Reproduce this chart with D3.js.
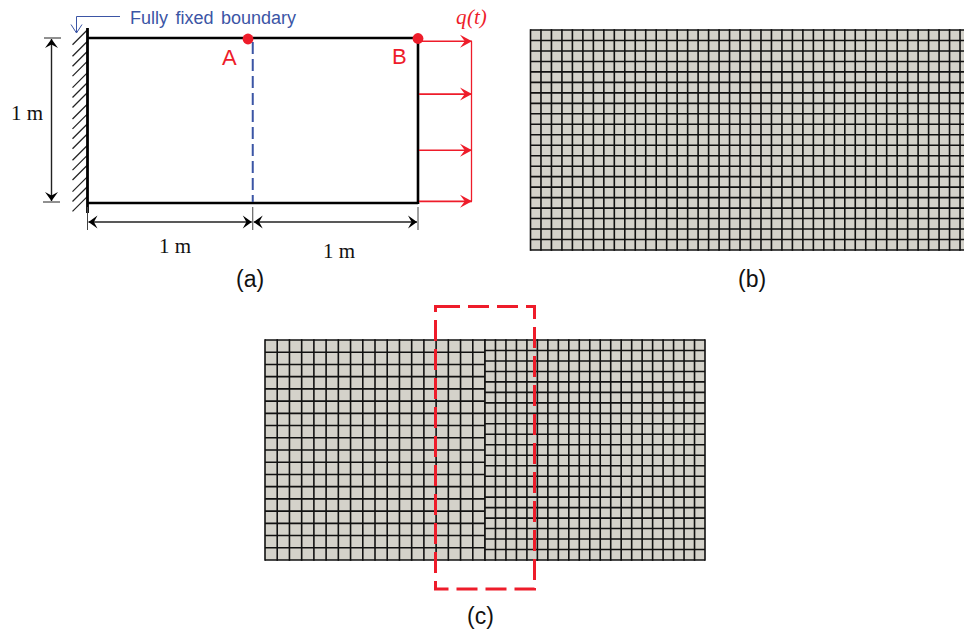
<!DOCTYPE html>
<html>
<head>
<meta charset="utf-8">
<script src="https://cdnjs.cloudflare.com/ajax/libs/d3/7.8.5/d3.min.js"></script>
<style>
    html, body { margin: 0; padding: 0; background: #fff; overflow: hidden; }
    svg { display: block; }
    .sans { font-family: "Liberation Sans", Arial, sans-serif; }
    .serif { font-family: "Liberation Serif", "Times New Roman", serif; }
</style>
</head>
<body>
<div id="chart"></div>
<script>
// geometry of the plate in metres
var plateX = [0, 2];
var plateY = [0, 1];
var splitX = 1;
var dimensionX = [0, 1, 2];

// load arrows, height along the free edge
var loadLevels = [0.98, 0.66, 0.32, 0.01];
// hatch marks along the fixed edge
var hatchLevels = [1.05, 0.98, 0.92, 0.86, 0.79, 0.73, 0.67, 0.6, 0.54, 0.48, 0.42, 0.35, 0.29, 0.23, 0.16, 0.1, 0.04];

// mesh sizes, elements per metre
var meshB = [{ from: 0, to: 2, n: 21 }];
var meshC = [{ from: 0, to: 1, n: 18 }, { from: 1, to: 2, n: 21 }];

var colors = { red: "#ee1c2a", blue: "#3b55a5", mesh: "#d4d2ca", line: "#111" };

var svg = d3.select("#chart").append("svg").attr("width", 964).attr("height", 631);

// scales, metres to pixels
var xA = d3.scaleLinear().domain([0, 2]).range([87.5, 418]);
var yA = d3.scaleLinear().domain([0, 1]).range([203, 38]);
var xB = d3.scaleLinear().domain([0, 2]).range([530.5, 970.5]);
var yB = d3.scaleLinear().domain([0, 1]).range([250, 30]);
var xC = d3.scaleLinear().domain([0, 2]).range([265, 705]);
var yC = d3.scaleLinear().domain([0, 1]).range([560, 340]);

// arrow heads
var defs = svg.append("defs");
function head(id, color, len, half) {
    defs.append("marker")
        .attr("id", id)
        .attr("markerUnits", "userSpaceOnUse")
        .attr("viewBox", (-len - 1) + " " + (-half - 1) + " " + (len + 2) + " " + (2 * half + 2))
        .attr("markerWidth", len + 2)
        .attr("markerHeight", 2 * half + 2)
        .attr("refX", 0)
        .attr("refY", 0)
        .attr("orient", "auto-start-reverse")
        .append("path")
        .attr("d", "M" + (-len) + "," + (-half) + "L0,0L" + (-len) + "," + half + "L" + (-len * 0.6) + ",0Z")
        .attr("fill", color);
}
head("headBlack", "#000", 9, 6.5);
head("headRed", colors.red, 12, 6.5);

function line(g, x1, y1, x2, y2, color, width) {
    return g.append("line")
        .attr("x1", x1).attr("y1", y1).attr("x2", x2).attr("y2", y2)
        .attr("stroke", color).attr("stroke-width", width);
}

function label(x, y, txt, cls, size, color) {
    return svg.append("text")
        .attr("class", cls)
        .attr("x", x).attr("y", y)
        .attr("font-size", size)
        .attr("fill", color)
        .text(txt);
}

// panel (a)
var a = svg.append("g");

a.selectAll("line.hatch")
    .data(hatchLevels)
    .enter().append("line")
    .attr("class", "hatch")
    .attr("x1", xA(0))
    .attr("y1", function (d) { return yA(d); })
    .attr("x2", xA(0) - 15)
    .attr("y2", function (d) { return yA(d) + 15; })
    .attr("stroke", "#222")
    .attr("stroke-width", 1.3);

// plate outline
line(a, xA(plateX[0]), yA(plateY[1]), xA(plateX[1]), yA(plateY[1]), "#000", 2.6);
line(a, xA(plateX[0]), yA(plateY[0]), xA(plateX[1]), yA(plateY[0]), "#000", 2.6);
line(a, xA(plateX[1]), yA(plateY[0]) + 1, xA(plateX[1]), yA(plateY[1]) - 1, "#000", 2.6);
line(a, xA(0), 28, xA(0), 213, "#000", 2.8);

// split line
line(a, xA(splitX), yA(1) + 4, xA(splitX), yA(0) - 1, colors.blue, 2)
    .attr("stroke-dasharray", "12 5");

// vertical dimension
line(a, 44, yA(1), 61, yA(1), "#222", 1);
line(a, 43, yA(0) - 1, 60, yA(0) - 1, "#222", 1);
line(a, 51.5, yA(1) + 1, 51.5, yA(0) - 2, "#222", 1.4)
    .attr("marker-start", "url(#headBlack)")
    .attr("marker-end", "url(#headBlack)");

// horizontal dimensions
a.selectAll("line.tick")
    .data(dimensionX)
    .enter().append("line")
    .attr("class", "tick")
    .attr("x1", function (d) { return xA(d); })
    .attr("x2", function (d) { return xA(d); })
    .attr("y1", 207)
    .attr("y2", 230)
    .attr("stroke", "#444")
    .attr("stroke-width", 1);
d3.pairs(dimensionX).forEach(function (p) {
    line(a, xA(p[0]) + 1, 222, xA(p[1]) - 1, 222, "#222", 1.4)
        .attr("marker-start", "url(#headBlack)")
        .attr("marker-end", "url(#headBlack)");
});

// load
line(a, 471.5, yA(loadLevels[0]), 471.5, yA(loadLevels[3]), colors.red, 1.3);
a.selectAll("line.load")
    .data(loadLevels)
    .enter().append("line")
    .attr("class", "load")
    .attr("x1", xA(2) + 1)
    .attr("x2", 472)
    .attr("y1", function (d) { return yA(d); })
    .attr("y2", function (d) { return yA(d); })
    .attr("stroke", colors.red)
    .attr("stroke-width", 1.6)
    .attr("marker-end", "url(#headRed)");

// points A and B
a.append("circle").attr("cx", 248).attr("cy", 39).attr("r", 5.4).attr("fill", colors.red);
a.append("circle").attr("cx", xA(2)).attr("cy", 38.5).attr("r", 5.4).attr("fill", colors.red);

// boundary pointer
a.append("path")
    .attr("d", "M120,16.5H76.5V33M71,24.5L76.5,33L82,24.5")
    .attr("fill", "none")
    .attr("stroke", colors.blue)
    .attr("stroke-width", 1);

label(130, 24, "Fully fixed boundary", "sans", 18, colors.blue).attr("word-spacing", 2.5);
label(222, 65, "A", "sans", 22, colors.red);
label(392, 64, "B", "sans", 22, colors.red);
label(456, 24, "q", "serif", 21, colors.red).attr("font-style", "italic");
label(467, 24, "(t)", "serif", 21, colors.red).attr("font-style", "italic");
label(11, 120, "1 m", "serif", 21, "#111");
label(159, 253, "1 m", "serif", 21, "#111");
label(323, 258, "1 m", "serif", 21, "#111");
label(236, 287, "(a)", "sans", 23, "#111");
label(738, 287, "(b)", "sans", 23, "#111");
label(467, 624, "(c)", "sans", 23, "#111");

// meshes
function drawMesh(blocks, x, y) {
    var g = svg.append("g");
    blocks.forEach(function (b) {
        var xs = d3.scaleLinear().domain([0, b.n * (b.to - b.from)]).range([x(b.from), x(b.to)]);
        var ys = d3.scaleLinear().domain([0, b.n]).range([y(0), y(1)]);
        g.append("rect")
            .attr("x", x(b.from))
            .attr("y", y(1))
            .attr("width", x(b.to) - x(b.from))
            .attr("height", y(0) - y(1))
            .attr("fill", colors.mesh);
        g.selectAll(null)
            .data(d3.range(0, b.n * (b.to - b.from) + 1))
            .enter().append("line")
            .attr("x1", function (d) { return xs(d); })
            .attr("x2", function (d) { return xs(d); })
            .attr("y1", y(0) + 0.8)
            .attr("y2", y(1) - 0.8)
            .attr("stroke", colors.line)
            .attr("stroke-width", 1.6);
        g.selectAll(null)
            .data(d3.range(0, b.n + 1))
            .enter().append("line")
            .attr("x1", x(b.from))
            .attr("x2", x(b.to))
            .attr("y1", function (d) { return ys(d); })
            .attr("y2", function (d) { return ys(d); })
            .attr("stroke", colors.line)
            .attr("stroke-width", 1.6);
    });
}
drawMesh(meshB, xB, yB);
drawMesh(meshC, xC, yC);

// red window over the mesh in (c)
svg.append("path")
    .attr("d", "M439,306.5H534.5V589H435.5V306.5H439")
    .attr("fill", "none")
    .attr("stroke", colors.red)
    .attr("stroke-width", 3)
    .attr("stroke-dasharray", "21 8");
</script>
</body>
</html>
